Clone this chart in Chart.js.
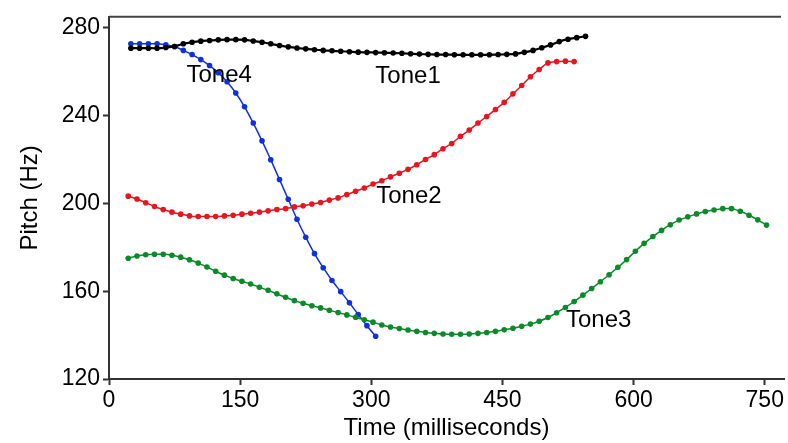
<!DOCTYPE html>
<html lang="en">
<head>
    <meta charset="UTF-8">
    <title>Pitch contours of the four tones</title>
    <script src="https://cdn.jsdelivr.net/npm/chart.js"></script>
    <style>
        body {
            margin: 0;
            background-color: #ffffff;
        }
        canvas {
            display: block;
        }
    </style>
</head>
<body>
    <canvas id="pitchChart" width="788" height="443"></canvas>

    <script>
        // pitch samples, one every 10 ms
        const tone1Start = 25;
        const tone1Values = [
            270.7, 270.7, 270.7, 270.7, 271.0, 271.5, 272.7, 273.4, 273.9, 274.2,
            274.5, 274.6, 274.6, 274.5, 274.0, 273.4, 272.7, 271.9, 271.3, 270.8,
            270.4, 270.0, 269.7, 269.5, 269.3, 269.1, 268.9, 268.8, 268.7, 268.6,
            268.5, 268.4, 268.2, 268.0, 267.9, 267.8, 267.8, 267.7, 267.7, 267.7,
            267.7, 267.7, 267.8, 267.9, 268.1, 268.8, 269.7, 270.9, 272.2, 273.7,
            274.8, 275.5, 276.1
        ];

        const tone2Start = 22;
        const tone2Values = [
            203.3, 202.0, 200.3, 198.6, 197.2, 196.0, 195.1, 194.3, 194.0, 194.0,
            194.0, 194.3, 194.6, 195.1, 195.5, 196.0, 196.6, 197.2, 197.6, 198.4,
            198.9, 199.7, 200.4, 201.5, 202.5, 204.0, 205.5, 207.0, 208.8, 210.3,
            212.1, 213.7, 215.5, 217.6, 220.0, 222.2, 224.9, 227.3, 230.6, 233.4,
            236.6, 239.6, 242.8, 246.0, 249.9, 253.7, 257.7, 261.0, 264.0, 264.6,
            264.8, 264.6
        ];

        const tone3Start = 22;
        const tone3Values = [
            175.0, 176.0, 176.6, 176.8, 176.8, 176.4, 175.5, 174.3, 172.8, 171.0,
            169.1, 167.3, 165.8, 164.5, 163.3, 161.8, 160.4, 158.8, 157.2, 155.7,
            154.5, 153.4, 152.4, 151.3, 150.3, 149.2, 148.1, 147.0, 145.9, 144.6,
            143.7, 143.0, 142.3, 141.7, 141.2, 140.8, 140.5, 140.4, 140.4, 140.5,
            140.8, 141.2, 141.7, 142.4, 143.1, 144.0, 145.0, 146.3, 148.0, 150.2,
            152.6, 155.3, 158.2, 161.2, 164.3, 167.5, 170.9, 174.4, 178.2, 181.8,
            184.9, 187.7, 190.3, 192.4, 193.9, 195.2, 196.3, 197.0, 197.6, 197.6,
            196.4, 194.6, 192.5, 190.1
        ];

        const tone4Start = 25;
        const tone4Values = [
            272.7, 272.7, 272.7, 272.7, 272.2, 271.5, 269.7, 267.8, 265.5, 262.8,
            259.5, 255.4, 250.3, 244.0, 236.6, 228.5, 219.9, 210.9, 201.9, 192.8,
            184.6, 177.1, 170.7, 164.9, 159.8, 154.7, 149.4, 144.3, 139.5
        ];

        const stepMs = 10;
        const xTicks = [0, 150, 300, 450, 600, 750];
        const yTicks = [120, 160, 200, 240, 280];

        const fontFamily = '"Liberation Sans", Arial, sans-serif';

        function toPoints(start, values) {
            return values.map((v, i) => ({ x: start + i * stepMs, y: v }));
        }

        function series(label, start, values, color, width) {
            return {
                label: label,
                data: toPoints(start, values),
                borderColor: color,
                backgroundColor: color,
                borderWidth: width,
                pointRadius: 2.8,
                pointBorderWidth: 0,
                pointBackgroundColor: color,
                tension: 0.3,
                fill: false
            };
        }

        // text next to each curve, anchored in data units (center x, baseline y)
        const toneLabels = [
            { text: 'Tone1', x: 342, y: 254.7 },
            { text: 'Tone2', x: 343, y: 200.2 },
            { text: 'Tone3', x: 560, y: 143.7 },
            { text: 'Tone4', x: 126, y: 255.1 }
        ];

        const extras = {
            id: 'extras',
            afterDraw(chart) {
                const ctx = chart.ctx;
                const area = chart.chartArea;
                const xs = chart.scales.x;
                const ys = chart.scales.y;
                ctx.save();
                // top frame line
                ctx.strokeStyle = '#444444';
                ctx.lineWidth = 2;
                ctx.beginPath();
                ctx.moveTo(area.left, area.top);
                ctx.lineTo(area.right - 3, area.top);
                ctx.stroke();
                // tone names
                ctx.fillStyle = '#000000';
                ctx.font = '24px ' + fontFamily;
                ctx.textAlign = 'center';
                ctx.textBaseline = 'alphabetic';
                toneLabels.forEach(l => {
                    ctx.fillText(l.text, xs.getPixelForValue(l.x), ys.getPixelForValue(l.y));
                });
                ctx.restore();
            }
        };

        new Chart(document.getElementById('pitchChart'), {
            type: 'line',
            data: {
                datasets: [
                    series('Tone1', tone1Start, tone1Values, '#000000', 2.2),
                    series('Tone2', tone2Start, tone2Values, '#e8141e', 1.5),
                    series('Tone3', tone3Start, tone3Values, '#0a8a28', 1.5),
                    series('Tone4', tone4Start, tone4Values, '#1030e0', 1.5)
                ]
            },
            options: {
                responsive: false,
                animation: false,
                layout: {
                    padding: { top: 11, right: 2, left: 0, bottom: 0 }
                },
                scales: {
                    x: {
                        type: 'linear',
                        min: 0,
                        max: 772,
                        afterBuildTicks: scale => {
                            scale.ticks = xTicks.map(v => ({ value: v }));
                        },
                        afterFit: scale => {
                            scale.height = 64;
                        },
                        grid: {
                            drawOnChartArea: false,
                            drawTicks: true,
                            tickLength: 6,
                            tickWidth: 2,
                            color: '#333333'
                        },
                        border: {
                            display: true,
                            color: '#333333',
                            width: 2
                        },
                        ticks: {
                            color: '#000000',
                            padding: 2,
                            maxRotation: 0,
                            font: { family: fontFamily, size: 23 }
                        },
                        title: {
                            display: true,
                            text: 'Time (milliseconds)',
                            color: '#000000',
                            padding: { top: 0, bottom: 0 },
                            font: { family: fontFamily, size: 24 }
                        }
                    },
                    y: {
                        type: 'linear',
                        min: 120,
                        max: 285,
                        afterBuildTicks: scale => {
                            scale.ticks = yTicks.map(v => ({ value: v }));
                        },
                        afterFit: scale => {
                            scale.width = 109;
                        },
                        grid: {
                            drawOnChartArea: false,
                            drawTicks: true,
                            tickLength: 6,
                            tickWidth: 2,
                            color: '#333333'
                        },
                        border: {
                            display: true,
                            color: '#333333',
                            width: 2
                        },
                        ticks: {
                            color: '#000000',
                            padding: 3,
                            font: { family: fontFamily, size: 23 }
                        },
                        title: {
                            display: true,
                            text: 'Pitch (Hz)',
                            color: '#000000',
                            padding: { top: 16, bottom: 0 },
                            font: { family: fontFamily, size: 24 }
                        }
                    }
                },
                plugins: {
                    legend: { display: false },
                    tooltip: { enabled: false }
                }
            },
            plugins: [extras]
        });
    </script>
</body>
</html>
